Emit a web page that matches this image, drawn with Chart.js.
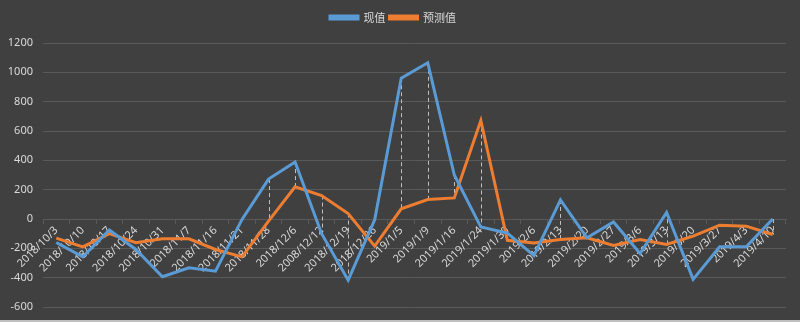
<!DOCTYPE html>
<html>
<head>
<meta charset="utf-8">
<script src="https://cdn.jsdelivr.net/npm/chart.js@4/dist/chart.umd.min.js"></script>
<style>
  html, body { margin: 0; padding: 0; background: #404040; }
  #wrap { width: 800px; height: 322px; box-sizing: border-box; border-bottom: 2px solid #bfbfbf; }
</style>
</head>
<body>
<div id="wrap"><canvas id="chart" width="800" height="320"></canvas></div>
<script>
const dates = ['2018/10/3', '2018/10/10', '2018/10/17', '2018/10/24', '2018/10/31', '2018/11/7', '2018/11/16',
  '2018/11/21', '2018/11/28', '2018/12/6', '2008/12/12', '2018/12/19', '2018/12/26', '2019/1/5', '2019/1/9',
  '2019/1/16', '2019/1/24', '2019/1/30', '2019/2/6', '2019/2/13', '2019/2/20', '2019/2/27', '2019/3/6',
  '2019/3/13', '2019/3/20', '2019/3/27', '2019/4/3', '2019/4/10'];
const actual = [-160, -258, -75, -208, -394, -333, -356, -3, 272, 388, -100, -417, -5, 960, 1065, 300,
  -55, -96, -250, 130, -128, -20, -235, 45, -412, -190, -190, 0];
const predicted = [-130, -190, -100, -162, -135, -135, -208, -258, -15, 220, 160, 37, -185, 69, 133, 144,
  672, -145, -163, -140, -128, -181, -140, -174, -117, -42, -49, -106];
const yTicks = [-600, -400, -200, 0, 200, 400, 600, 800, 1000, 1200];

const textColor = '#d9d9d9';
const gridColor = '#595959';

// dashed high-low lines, only where the higher of the two values reaches the zero line
const highLowLines = {
  id: 'highLowLines',
  beforeDatasetsDraw(chart) {
    const {ctx, scales: {x, y}} = chart;
    ctx.save();
    ctx.strokeStyle = '#bfbfbf';
    ctx.lineWidth = 1;
    ctx.setLineDash([4, 3]);
    dates.forEach((d, i) => {
      const hi = Math.max(actual[i], predicted[i]);
      const lo = Math.min(actual[i], predicted[i]);
      if (hi < 0) return;
      const px = Math.round(x.getPixelForValue(i)) + 0.5;
      ctx.beginPath();
      ctx.moveTo(px, y.getPixelForValue(hi));
      ctx.lineTo(px, y.getPixelForValue(lo));
      ctx.stroke();
    });
    ctx.restore();
  }
};

// extra room between the legend and the plot
const legendGap = {
  id: 'legendGap',
  afterInit(chart) {
    const fit = chart.legend.fit;
    chart.legend.fit = function () {
      fit.call(this);
      this.height += 10;
    };
  }
};

const noPadding = axis => {
  axis.paddingTop = 0;
  axis.paddingBottom = 0;
  axis.paddingLeft = 0;
  axis.paddingRight = 0;
};

new Chart(document.getElementById('chart'), {
  type: 'line',
  data: {
    labels: dates,
    datasets: [{
      label: '现值',
      data: actual,
      borderColor: '#5b9bd5',
      backgroundColor: '#5b9bd5',
      borderWidth: 3,
      pointRadius: 0,
      tension: 0
    }, {
      label: '预测值',
      data: predicted,
      borderColor: '#ed7d31',
      backgroundColor: '#ed7d31',
      borderWidth: 3,
      pointRadius: 0,
      tension: 0
    }]
  },
  options: {
    responsive: false,
    animation: false,
    layout: { padding: { top: 8, right: 14, bottom: 13, left: 0 } },
    scales: {
      x: {
        position: { y: 0 },
        offset: true,
        afterFit: noPadding,
        grid: { display: true, drawOnChartArea: false, offset: true, color: gridColor, tickLength: 4 },
        border: { color: gridColor },
        ticks: {
          color: textColor,
          font: { family: 'Noto Sans', size: 11 },
          autoSkip: false,
          maxRotation: 45,
          minRotation: 45,
          padding: 1
        }
      },
      y: {
        min: -600,
        max: 1200,
        afterBuildTicks: axis => { axis.ticks = yTicks.map(v => ({ value: v })); },
        afterFit: axis => {
          noPadding(axis);
          axis.width = 43;
        },
        grid: { color: gridColor, drawTicks: false },
        border: { display: false },
        ticks: {
          color: textColor,
          font: { family: 'Noto Sans', size: 11 },
          padding: 10,
          callback: v => String(v)
        }
      }
    },
    plugins: {
      legend: {
        position: 'top',
        labels: {
          color: textColor,
          font: { family: 'Noto Sans CJK SC', size: 11 },
          boxWidth: 28,
          boxHeight: 3,
          padding: 4
        }
      },
      tooltip: { enabled: false }
    }
  },
  plugins: [highLowLines, legendGap]
});
</script>
</body>
</html>
